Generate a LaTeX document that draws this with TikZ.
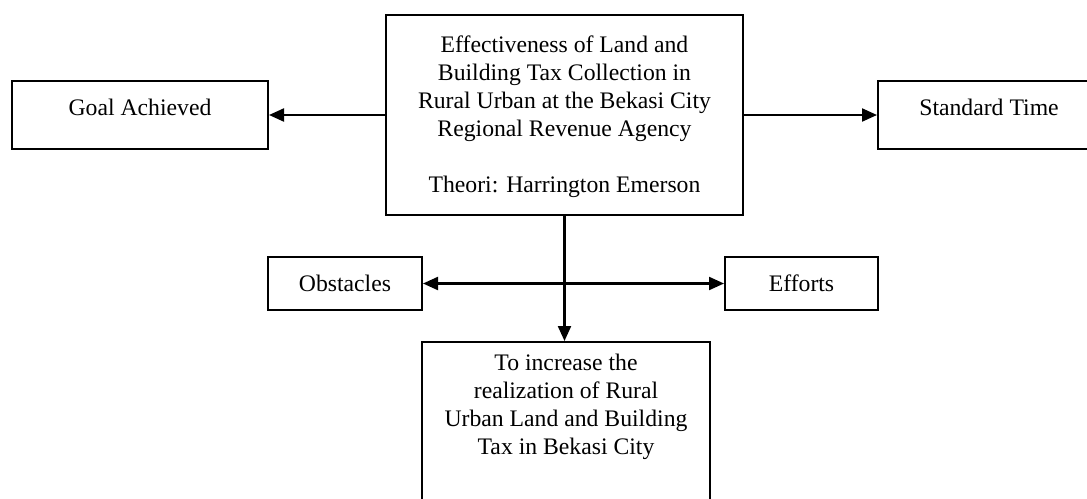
\documentclass[tikz,border=0pt]{standalone}
\usepackage{fontspec}
\setmainfont{Liberation Serif}
\usetikzlibrary{arrows.meta}
\begin{document}
\begin{tikzpicture}[x=1pt,y=-1pt,
  box/.style={draw=black,line width=2pt,inner sep=0pt,anchor=center},
  lbl/.style={inner sep=0pt,font=\fontsize{23.7}{28}\selectfont,align=center},
  tip/.style={Triangle[length=15pt,width=13pt]},
  conn/.style={line width=2.2pt,-{Triangle[length=15pt,width=13pt]}},
  conn2/.style={line width=2.2pt,{Triangle[length=15pt,width=13pt]}-{Triangle[length=15pt,width=13pt]}}]
\useasboundingbox (0,0) rectangle (1087,498);
\clip (0,0) rectangle (1087,498);
% boxes
\node[box,minimum width=256pt,minimum height=68pt] (goal) at (140,115) {};
\node[box,minimum width=357pt,minimum height=200pt] (central) at (564.5,115) {};
\node[box,minimum width=222pt,minimum height=68pt] (std) at (989,115) {};
\node[box,minimum width=154pt,minimum height=53pt] (obs) at (345,283.5) {};
\node[box,minimum width=153pt,minimum height=53pt] (eff) at (801.5,283.5) {};
\node[box,minimum width=288pt,minimum height=178pt] (bottom) at (566,431) {};
% texts
\node[lbl,anchor=base] (tgoal) at (140,115) {Goal Achieved};
\node[lbl,anchor=base] (tstd) at (989,115) {Standard Time};
\node[lbl,anchor=base] (tobs) at (345,291) {Obstacles};
\node[lbl,anchor=base] (teff) at (801.5,291) {Efforts};
\node[lbl,anchor=north] (tcentral) at (564.5,36) {Effectiveness of Land and\\Building Tax Collection in\\Rural Urban at the Bekasi City\\Regional Revenue Agency\\[28pt]Theori: Harrington Emerson};
\node[lbl,anchor=north] (tbottom) at (566,354) {To increase the\\realization of Rural\\Urban Land and Building\\Tax in Bekasi City};
% connectors
\draw[conn] (central.west) -- (goal.east);
\draw[conn] (central.east) -- (std.west);
\draw[conn] (central.south) -- (central.south |- bottom.north);
\draw[conn2] (obs.east) -- (eff.west);
\end{tikzpicture}
\end{document}
